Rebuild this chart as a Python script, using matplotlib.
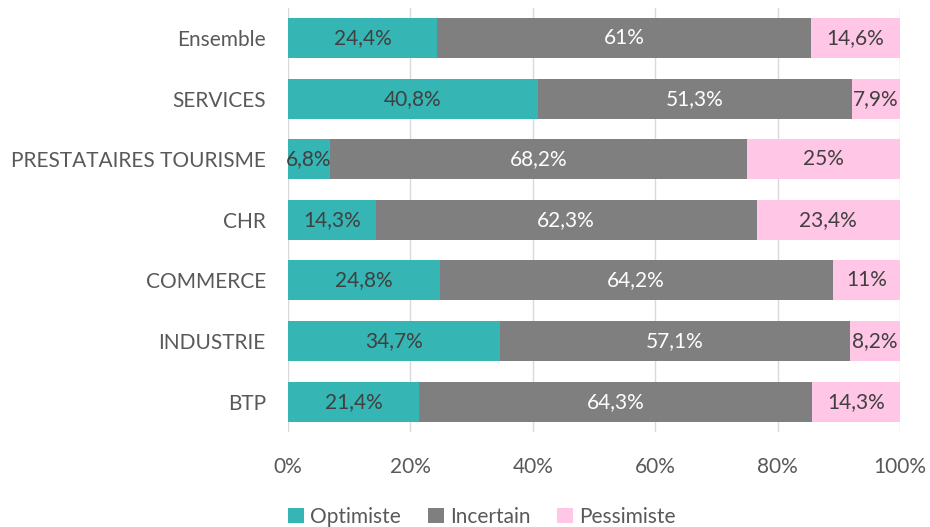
import matplotlib.pyplot as plt
import numpy as np

plt.rcParams['font.family'] = ['Lato', 'DejaVu Sans']

categories = ['Ensemble', 'SERVICES', 'PRESTATAIRES TOURISME', 'CHR', 'COMMERCE', 'INDUSTRIE', 'BTP']
optimiste = [24.4, 40.8, 6.8, 14.3, 24.8, 34.7, 21.4]
incertain = [61.0, 51.3, 68.2, 62.3, 64.2, 57.1, 64.3]
pessimiste = [14.6, 7.9, 25.0, 23.4, 11.0, 8.2, 14.3]
series_names = ['Optimiste', 'Incertain', 'Pessimiste']
colors = ['#36B5B5', '#7F7F7F', '#FFC6E6']
text_colors = ['#404040', 'white', '#404040']

fig = plt.figure(figsize=(9.3, 5.27), dpi=100)
ax = fig.add_axes([0.3097, 0.1803, 0.6580, 0.8051])

y = np.arange(len(categories))
left = np.zeros(len(categories))
for vals, name, col, tcol in zip([optimiste, incertain, pessimiste], series_names, colors, text_colors):
    vals = np.array(vals)
    ax.barh(y, vals, left=left, height=0.66, color=col, label=name, zorder=3)
    for yi, l, v in zip(y, left, vals):
        txt = f'{v:g}'.replace('.', ',') + '%'
        ax.text(l + v / 2, yi, txt, ha='center', va='center', color=tcol, fontsize=15, zorder=4)
    left += vals

ax.set_xlim(0, 100)
ax.set_ylim(len(categories) - 0.5, -0.5)
ax.set_yticks(y)
ax.set_yticklabels(categories, fontsize=15, color='#595959')
ax.set_xticks(np.arange(0, 101, 20))
ax.set_xticklabels([f'{t}%' for t in range(0, 101, 20)], fontsize=15, color='#595959')
ax.tick_params(axis='y', length=0, pad=16)
ax.tick_params(axis='x', length=0, pad=18)
ax.grid(axis='x', color='#D9D9D9', linewidth=1, zorder=0)
for s in ax.spines.values():
    s.set_visible(False)

ax.legend(loc='center', bbox_to_anchor=(0.317, -0.2), ncol=3, frameon=False,
          fontsize=15, handlelength=0.75, handleheight=0.75, handletextpad=0.3,
          columnspacing=1.3, labelcolor='#595959')

fig.savefig('out.png', dpi=100)
